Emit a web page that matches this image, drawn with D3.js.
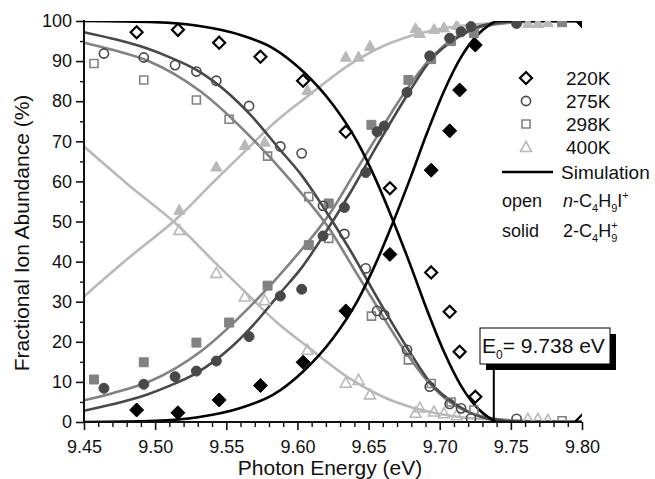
<!DOCTYPE html>
<html><head><meta charset="utf-8">
<script src="https://cdn.jsdelivr.net/npm/d3@7/dist/d3.min.js"></script>
<style>
html,body{margin:0;padding:0;background:#fff;}
svg text{font-family:"Liberation Sans",Arial,sans-serif;fill:#111;}
</style></head>
<body><svg id="chart" width="655" height="479"></svg>
<script>
// ---- data ----
const xTicks = [9.45, 9.50, 9.55, 9.60, 9.65, 9.70, 9.75, 9.80];
const yTicks = [0, 10, 20, 30, 40, 50, 60, 70, 80, 90, 100];
const temps = ["220K", "275K", "298K", "400K"];
const E0 = 9.738;

// measured points: energy, open (n-C4H9I+), solid (2-C4H9+)
const E220 = [9.487, 9.516, 9.545, 9.574, 9.604, 9.634, 9.665, 9.694, 9.707, 9.714, 9.725, 9.80];
const open220 = [97.2, 97.8, 94.6, 91.1, 85.1, 72.4, 58.3, 37.3, 27.5, 17.5, 6.3, 0.3];
const solid220 = [3.0, 2.3, 5.5, 9.1, 14.9, 27.7, 41.8, 62.8, 72.6, 82.8, 94.0, 100];

const E275 = [9.464, 9.492, 9.514, 9.529, 9.543, 9.566, 9.588, 9.603, 9.618, 9.633, 9.648, 9.656, 9.661, 9.677, 9.693, 9.707, 9.715, 9.722, 9.754];
const open275 = [91.9, 90.9, 89.0, 87.4, 85.1, 78.8, 68.7, 67.0, 53.9, 46.9, 38.3, 27.7, 26.7, 18.0, 8.8, 4.5, 3.4, 0.9, 0.8];
const solid275 = [8.4, 9.4, 11.3, 12.7, 15.2, 21.3, 31.4, 33.1, 46.4, 53.5, 62.2, 72.4, 73.8, 82.2, 91.3, 95.7, 97.3, 98.6, 99.4];

const E298 = [9.457, 9.492, 9.529, 9.552, 9.579, 9.608, 9.622, 9.652, 9.678, 9.694, 9.708, 9.724, 9.786];
const open298 = [89.4, 85.3, 80.3, 75.5, 66.3, 56.2, 45.8, 26.4, 15.5, 9.6, 5.0, 3.0, 0.3];
const solid298 = [10.6, 14.9, 19.8, 24.8, 34.0, 44.1, 54.5, 74.1, 85.3, 90.5, 95.0, 97.0, 99.7];

const E400 = [9.517, 9.543, 9.563, 9.577, 9.607, 9.634, 9.643, 9.651, 9.683, 9.686, 9.696, 9.703, 9.712, 9.762, 9.769, 9.776];
const open400 = [47.9, 37.2, 31.3, 30.4, 18.0, 9.8, 10.5, 6.9, 2.3, 3.6, 2.6, 2.2, 1.7, 0.8, 0.8, 0.5];
const solid400 = [52.9, 63.7, 69.1, 69.9, 82.8, 91.1, 91.1, 93.8, 98.2, 97.0, 98.0, 98.4, 99.0, 99.5, 99.5, 99.7];

// simulation curves
const simE220 = [9.45, 9.50, 9.53, 9.56, 9.583, 9.604, 9.625, 9.642, 9.655, 9.667, 9.679, 9.691, 9.703, 9.715, 9.727, 9.735, 9.740, 9.80];
const simOpen220 = [100, 99.7, 98.8, 96.5, 93.2, 87.4, 79.1, 69.9, 60.5, 50.4, 39.5, 28, 17.5, 9.0, 3.3, 1.0, 0, 0];
const simSolid220 = [0, 0.3, 1.2, 3.5, 6.8, 12.6, 20.9, 30.1, 39.5, 49.6, 60.5, 72, 82.5, 91, 96.7, 99, 100, 100];

const simE275 = [9.45, 9.47, 9.494, 9.51, 9.529, 9.553, 9.567, 9.588, 9.603, 9.618, 9.637, 9.656, 9.678, 9.693, 9.714, 9.733, 9.76, 9.80];
const simOpen275 = [97.2, 95.6, 93.2, 91, 87.8, 81.5, 76.6, 67.8, 61.5, 53.7, 42.9, 31, 18.0, 10, 3.8, 0.9, 0, 0];
const simSolid275 = [2.8, 4.4, 6.8, 9, 12.2, 18.5, 23.4, 32.2, 38.5, 46.3, 57.1, 69, 82, 90, 96.2, 99.1, 100, 100];

const simE298 = [9.45, 9.47, 9.496, 9.532, 9.567, 9.595, 9.623, 9.64, 9.653, 9.672, 9.693, 9.707, 9.731, 9.76, 9.80];
const simOpen298 = [94.6, 92.8, 89.9, 82.4, 71.1, 60.3, 47.9, 38, 30.5, 19.6, 9.6, 5, 1.3, 0.2, 0];
const simSolid298 = [5.4, 7.2, 10.1, 17.6, 28.9, 39.7, 52.1, 62, 69.5, 80.4, 90.4, 95, 98.7, 99.8, 100];

const simE400 = [9.45, 9.48, 9.517, 9.54, 9.563, 9.585, 9.607, 9.637, 9.66, 9.679, 9.70, 9.72, 9.76, 9.80];
const simOpen400 = [68.7, 59.5, 48.7, 40.5, 32.5, 25, 18.8, 10.8, 6.3, 3.8, 2, 1, 0.3, 0.1];
const simSolid400 = [31.3, 40.5, 51.3, 59.5, 67.5, 75, 81.2, 89.2, 93.7, 96.2, 98, 99, 99.7, 99.9];

// ---- build ----
const series = [
  {t:"400K", color:"#b9b9b9", shape:"tri",  E:E400, open:open400, solid:solid400, sE:simE400, sOpen:simOpen400, sSolid:simSolid400},
  {t:"298K", color:"#828282", shape:"sq",   E:E298, open:open298, solid:solid298, sE:simE298, sOpen:simOpen298, sSolid:simSolid298},
  {t:"275K", color:"#484848", shape:"circ", E:E275, open:open275, solid:solid275, sE:simE275, sOpen:simOpen275, sSolid:simSolid275},
  {t:"220K", color:"#000000", shape:"dia",  E:E220, open:open220, solid:solid220, sE:simE220, sOpen:simOpen220, sSolid:simSolid220}
];

const svg = d3.select("#chart");
const x = d3.scaleLinear().domain([9.45, 9.80]).range([84, 582]);
const y = d3.scaleLinear().domain([0, 100]).range([422, 21]);

svg.append("defs").append("clipPath").attr("id","plotclip")
  .append("rect").attr("x", x(9.45)).attr("y", y(100)).attr("width", x(9.80)-x(9.45)).attr("height", y(0)-y(100));

const plot = svg.append("g").attr("clip-path","url(#plotclip)");
const line = d3.line().x(d=>x(d[0])).y(d=>y(d[1])).curve(d3.curveMonotoneX);

function markerPath(shape, filled){
  if(shape==="dia"){ const s = filled?7:6; return `M0,${-s}L${s},0L0,${s}L${-s},0Z`; }
  if(shape==="sq"){ const s = filled?4.5:4; return `M${-s},${-s}H${s}V${s}H${-s}Z`; }
  if(shape==="tri"){ const w = 5.5; return `M0,-5.5L${w},4.5L${-w},4.5Z`; }
  return null;
}
function drawMarker(g, shape, color, filled, cx, cy){
  let m;
  if(shape==="circ"){
    m = g.append("circle").attr("cx",cx).attr("cy",cy).attr("r", filled?5:4.6);
  } else {
    m = g.append("path").attr("d", markerPath(shape, filled)).attr("transform",`translate(${cx},${cy})`);
  }
  m.attr("fill", filled?color:"none").attr("stroke", color)
   .attr("stroke-width", filled?1:(shape==="dia"?2.2:1.6));
  return m;
}

series.forEach(s=>{
  plot.append("path").datum(s.sE.map((e,i)=>[e, s.sOpen[i]])).attr("d", line)
    .attr("fill","none").attr("stroke", s.color).attr("stroke-width", 2.6);
  plot.append("path").datum(s.sE.map((e,i)=>[e, s.sSolid[i]])).attr("d", line)
    .attr("fill","none").attr("stroke", s.color).attr("stroke-width", 2.6);
});
series.forEach(s=>{
  const g = plot.append("g");
  s.E.forEach((e,i)=>{
    drawMarker(g, s.shape, s.color, false, x(e), y(s.open[i]));
    drawMarker(g, s.shape, s.color, true, x(e), y(s.solid[i]));
  });
});

// axes
const axisColor = "#111";
const ga = svg.append("g");
ga.append("line").attr("x1",x(9.45)).attr("x2",x(9.45)).attr("y1",y(100)-1).attr("y2",y(0)+1)
  .attr("stroke",axisColor).attr("stroke-width",2);
ga.append("line").attr("x1",x(9.45)-1).attr("x2",x(9.80)).attr("y1",y(0)).attr("y2",y(0))
  .attr("stroke",axisColor).attr("stroke-width",2);

// y ticks
const yAxis = d3.axisLeft(y).tickValues(yTicks).tickSize(8).tickPadding(4).tickFormat(d3.format("d"));
const gy = svg.append("g").attr("transform",`translate(${x(9.45)},0)`).call(yAxis);
gy.select(".domain").remove();
gy.selectAll(".tick line").attr("stroke",axisColor).attr("stroke-width",1.6);
gy.selectAll(".tick text").attr("font-size",18).attr("fill","#111").style("font-family","Liberation Sans, Arial, sans-serif");
const yMinor = d3.range(5, 100, 10);
const gym = svg.append("g").attr("transform",`translate(${x(9.45)},0)`)
  .call(d3.axisLeft(y).tickValues(yMinor).tickSize(4).tickFormat(""));
gym.select(".domain").remove();
gym.selectAll(".tick line").attr("stroke",axisColor).attr("stroke-width",1.4);

// x ticks
const xAxis = d3.axisBottom(x).tickValues(xTicks).tickSize(8).tickPadding(10).tickFormat(d3.format(".2f"));
const gx = svg.append("g").attr("transform",`translate(0,${y(0)})`).call(xAxis);
gx.select(".domain").remove();
gx.selectAll(".tick line").attr("stroke",axisColor).attr("stroke-width",1.6);
gx.selectAll(".tick text").attr("font-size",18).attr("fill","#111").style("font-family","Liberation Sans, Arial, sans-serif");
const xMinor = d3.range(0, 36).map(i=>9.45 + i*0.01).filter((v,i)=> i%5!==0);
const gxm = svg.append("g").attr("transform",`translate(0,${y(0)})`)
  .call(d3.axisBottom(x).tickValues(xMinor).tickSize(5).tickFormat(""));
gxm.select(".domain").remove();
gxm.selectAll(".tick line").attr("stroke",axisColor).attr("stroke-width",1.4);

// axis titles
svg.append("text").attr("x",330).attr("y",475).attr("text-anchor","middle").attr("font-size",21)
  .text("Photon Energy (eV)");
svg.append("text").attr("transform","translate(29,233) rotate(-90)").attr("text-anchor","middle").attr("font-size",21)
  .text("Fractional Ion Abundance (%)");

// legend
const lg = svg.append("g");
const order = ["220K","275K","298K","400K"];
order.forEach((t,i)=>{
  const s = series.find(d=>d.t===t);
  const cy = 78 + i*23;
  drawMarker(lg, s.shape, s.color, false, 526, cy);
  lg.append("text").attr("x",566).attr("y",cy+7).attr("font-size",19).text(t);
});
lg.append("line").attr("x1",502).attr("x2",553).attr("y1",172).attr("y2",172).attr("stroke","#000").attr("stroke-width",2.6);
lg.append("text").attr("x",561).attr("y",179).attr("font-size",19).text("Simulation");
lg.append("text").attr("x",502).attr("y",207).attr("font-size",18).text("open");
const t1 = lg.append("text").attr("x",563).attr("y",207).attr("font-size",18);
t1.append("tspan").attr("font-style","italic").text("n");
t1.append("tspan").text("-C");
t1.append("tspan").attr("font-size",11).attr("dy",5).text("4");
t1.append("tspan").attr("dy",-5).text("H");
t1.append("tspan").attr("font-size",11).attr("dy",5).text("9");
t1.append("tspan").attr("dy",-5).text("I");
t1.append("tspan").attr("font-size",11).attr("dy",-8).text("+");
lg.append("text").attr("x",502).attr("y",237).attr("font-size",18).text("solid");
const t2 = lg.append("text").attr("x",563).attr("y",237).attr("font-size",18);
t2.append("tspan").text("2-C");
t2.append("tspan").attr("font-size",11).attr("dy",5).text("4");
t2.append("tspan").attr("dy",-5).text("H");
t2.append("tspan").attr("font-size",11).attr("dy",5).text("9");
t2.append("tspan").attr("font-size",11).attr("dx",-6).attr("dy",-13).text("+");

// E0 annotation
const ann = svg.append("g");
ann.append("rect").attr("x",486).attr("y",334).attr("width",130).attr("height",36).attr("fill","#000");
ann.append("rect").attr("x",480).attr("y",328).attr("width",130).attr("height",36).attr("fill","#fff")
  .attr("stroke","#000").attr("stroke-width",1);
ann.append("line").attr("x1",x(E0)).attr("x2",x(E0)).attr("y1",370).attr("y2",y(0))
  .attr("stroke","#000").attr("stroke-width",2);
const et = ann.append("text").attr("x",482).attr("y",353).attr("font-size",21);
et.append("tspan").text("E");
et.append("tspan").attr("font-size",12).attr("dy",6).text("0");
et.append("tspan").attr("dy",-6).text("= " + E0.toFixed(3) + " eV");
</script></body></html>
